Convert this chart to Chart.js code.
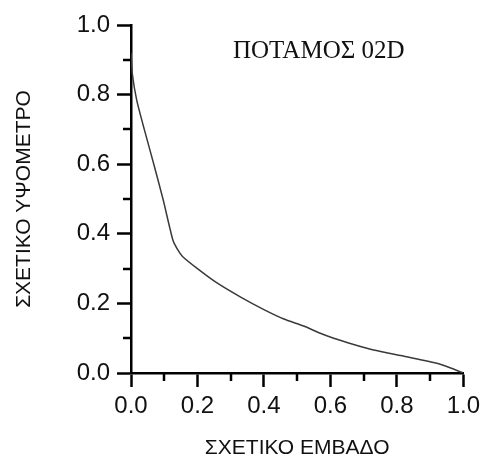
<!DOCTYPE html>
<html>
<head>
<meta charset="utf-8">
<script src="https://cdn.jsdelivr.net/npm/chart.js@4.4.0/dist/chart.umd.min.js"></script>
<style>
  html, body { margin: 0; padding: 0; background: #fff; }
  #wrap { width: 485px; height: 463px; }
</style>
</head>
<body>
<div id="wrap"><canvas id="myChart"></canvas></div>
<script>
// hypsometric curve, relative area vs relative height
const relArea = [0, 0.004, 0.017, 0.04, 0.07, 0.097, 0.126, 0.14, 0.155, 0.20, 0.26, 0.33, 0.40, 0.46, 0.52, 0.56, 0.61, 0.67, 0.73, 0.83, 0.92, 0.96, 1.0];
const relHeight = [0.92, 0.86, 0.785, 0.70, 0.595, 0.497, 0.382, 0.355, 0.335, 0.30, 0.258, 0.218, 0.182, 0.155, 0.135, 0.118, 0.10, 0.082, 0.066, 0.047, 0.028, 0.015, 0.0];
const majorTicks = [0, 0.2, 0.4, 0.6, 0.8, 1.0];
const minorTicks = [0.1, 0.3, 0.5, 0.7, 0.9];

const panelLabel = 'ΠΟΤΑΜΟΣ 02D';
const xTitle = 'ΣΧΕΤΙΚΟ ΕΜΒΑΔΟ';
const yTitle = 'ΣΧΕΤΙΚΟ ΥΨΟΜΕΤΡΟ';

const sans = 'Liberation Sans, Arial, sans-serif';
const tickFont = { family: sans, size: 24 };
const titleFont = { family: sans, size: 21 };

// short ticks in between the labelled ones
const minorTickPlugin = {
    id: 'minorTicks',
    afterDraw(chart) {
        const { ctx, scales: { x, y }, chartArea } = chart;
        ctx.save();
        ctx.strokeStyle = '#000';
        ctx.lineWidth = 2.5;
        ctx.beginPath();
        minorTicks.forEach(v => {
            const px = Math.round(x.getPixelForValue(v));
            ctx.moveTo(px, chartArea.bottom);
            ctx.lineTo(px, chartArea.bottom + 8);
            const py = Math.round(y.getPixelForValue(v));
            ctx.moveTo(chartArea.left, py);
            ctx.lineTo(chartArea.left - 8, py);
        });
        ctx.stroke();
        ctx.restore();
    }
};

// river name written inside the plot
const panelLabelPlugin = {
    id: 'panelLabel',
    afterDraw(chart) {
        const { ctx, scales: { x, y } } = chart;
        ctx.save();
        ctx.fillStyle = '#111';
        ctx.textAlign = 'center';
        ctx.textBaseline = 'middle';
        ctx.font = '25px "Liberation Serif", "Times New Roman", serif';
        ctx.fillText(panelLabel, x.getPixelForValue(0.565), y.getPixelForValue(0.925));
        ctx.restore();
    }
};

const ctx = document.getElementById('myChart').getContext('2d');

const chart = new Chart(ctx, {
    type: 'line',
    data: {
        datasets: [{
            data: relArea.map((a, i) => ({ x: a, y: relHeight[i] })),
            borderColor: '#3a3a3a',
            borderWidth: 1.5,
            pointRadius: 0,
            tension: 0.2,
            fill: false
        }]
    },
    options: {
        responsive: true,
        maintainAspectRatio: false,
        animation: false,
        layout: { padding: { top: 25, right: 21, bottom: 0, left: 0 } },
        plugins: {
            legend: { display: false },
            tooltip: { enabled: false }
        },
        scales: {
            x: {
                type: 'linear',
                min: 0,
                max: 1,
                afterFit: scale => { scale.height = 90; },
                afterBuildTicks: scale => { scale.ticks = majorTicks.map(v => ({ value: v })); },
                border: { display: true, color: '#000', width: 2.5 },
                grid: { drawOnChartArea: false, drawTicks: true, tickLength: 14, tickWidth: 2.5, tickColor: '#000' },
                ticks: {
                    padding: 5,
                    color: '#111',
                    font: tickFont,
                    maxRotation: 0,
                    callback: v => Number(v).toFixed(1)
                },
                title: {
                    display: true,
                    text: xTitle,
                    color: '#111',
                    font: titleFont,
                    padding: { top: 0, bottom: 2 }
                }
            },
            y: {
                type: 'linear',
                min: 0,
                max: 1,
                afterFit: scale => { scale.width = 131; },
                afterBuildTicks: scale => { scale.ticks = majorTicks.map(v => ({ value: v })); },
                border: { display: true, color: '#000', width: 2.5 },
                grid: { drawOnChartArea: false, drawTicks: true, tickLength: 14, tickWidth: 2.5, tickColor: '#000' },
                ticks: {
                    padding: 7,
                    color: '#111',
                    font: tickFont,
                    callback: v => Number(v).toFixed(1)
                },
                title: {
                    display: true,
                    text: yTitle,
                    color: '#111',
                    font: titleFont,
                    padding: { top: 12, bottom: 0 }
                }
            }
        }
    },
    plugins: [minorTickPlugin, panelLabelPlugin]
});
</script>
</body>
</html>
